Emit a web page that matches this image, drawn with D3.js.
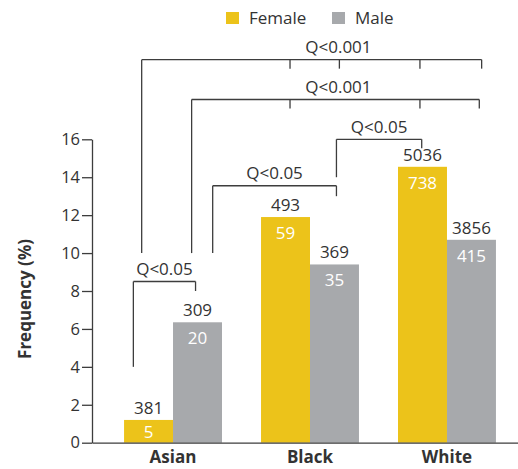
<!DOCTYPE html>
<html>
<head>
<meta charset="utf-8">
<script src="https://cdn.jsdelivr.net/npm/d3@7"></script>
<style>
  body { margin: 0; background: #fff; }
  svg text { font-family: "Open Sans", sans-serif; fill: #333; }
</style>
</head>
<body>
<div id="chart"></div>
<script>
const groups = ['Asian', 'Black', 'White'];
const sexes = ['Female', 'Male'];
const femaleFreq = [1.2, 11.9, 14.55];
const maleFreq = [6.35, 9.4, 10.7];
const femaleTotal = [381, 493, 5036];
const maleTotal = [309, 369, 3856];
const femaleCases = [5, 59, 738];
const maleCases = [20, 35, 415];
const yTicks = [0, 2, 4, 6, 8, 10, 12, 14, 16];

// brackets: each leg is [group index, place inside the group (0-1), value where the leg ends]
// a leg with null end is just a short tick
const brackets = [
    { label: 'Q<0.001', level: 20.2, labelAt: [1, 0.79],
      legs: [[0, 0.18, 10], [1, 0.296, null], [1, 0.8, null], [2, 0.224, null], [2, 0.854, null]] },
    { label: 'Q<0.001', level: 18.1, labelAt: [1, 0.79],
      legs: [[0, 0.69, 10], [1, 0.296, null], [2, 0.224, null], [2, 0.83, null]] },
    { label: 'Q<0.05', level: 16, labelAt: null,
      legs: [[1, 0.77, 14], [2, 0.242, null]] },
    { label: 'Q<0.05', level: 13.55, labelAt: null,
      legs: [[0, 0.905, 10], [1, 0.77, 13]] },
    { label: 'Q<0.05', level: 8.5, labelAt: null,
      legs: [[0, 0.095, 4], [0, 0.73, 8]] }
];

const width = 518;
const height = 469;
const colors = { Female: '#ECC31A', Male: '#A7A9AC' };
const lineColor = '#3d3d3d';

const svg = d3.select('#chart')
    .append('svg')
    .attr('width', width)
    .attr('height', height);

const x = d3.scaleBand()
    .domain(groups)
    .range([92, 528])
    .paddingInner(0.285)
    .paddingOuter(0.234);

const xSex = d3.scaleBand()
    .domain(sexes)
    .range([0, x.bandwidth()]);

const y = d3.scaleLinear()
    .domain([0, 16])
    .range([442.7, 139.3]);

// y axis
const yAxis = d3.axisLeft(y)
    .tickValues(yTicks)
    .tickSize(10)
    .tickSizeOuter(0)
    .tickPadding(2);

const yAxisGroup = svg.append('g')
    .attr('transform', 'translate(92, 0)')
    .call(yAxis);
yAxisGroup.selectAll('path, line').attr('stroke', lineColor).attr('stroke-width', 1.3);
yAxisGroup.selectAll('text')
    .style('font-size', '16.5px')
    .attr('fill', '#333');

svg.append('text')
    .attr('transform', `translate(31, ${(y(0) + y(16)) / 2 + 8}) rotate(-90)`)
    .attr('text-anchor', 'middle')
    .style('font-size', '17px')
    .style('font-weight', 'bold')
    .text('Frequency (%)');

// bars
const rows = [];
groups.forEach((g, i) => {
    rows.push({ group: g, sex: 'Female', value: femaleFreq[i], total: femaleTotal[i], cases: femaleCases[i] });
    rows.push({ group: g, sex: 'Male', value: maleFreq[i], total: maleTotal[i], cases: maleCases[i] });
});

const barGroup = svg.append('g');

barGroup.selectAll('rect')
    .data(rows)
    .enter()
    .append('rect')
    .attr('x', d => x(d.group) + xSex(d.sex))
    .attr('width', xSex.bandwidth())
    .attr('y', d => y(d.value))
    .attr('height', d => y(0) - y(d.value))
    .attr('fill', d => colors[d.sex]);

barGroup.selectAll('text.total')
    .data(rows)
    .enter()
    .append('text')
    .attr('class', 'total')
    .attr('x', d => x(d.group) + xSex(d.sex) + xSex.bandwidth() / 2)
    .attr('y', d => y(d.value) - 6)
    .attr('text-anchor', 'middle')
    .style('font-size', '17px')
    .text(d => d.total);

barGroup.selectAll('text.cases')
    .data(rows)
    .enter()
    .append('text')
    .attr('class', 'cases')
    .attr('x', d => x(d.group) + xSex(d.sex) + xSex.bandwidth() / 2)
    .attr('y', d => Math.min(y(d.value) + 22, y(0) - 4.5))
    .attr('text-anchor', 'middle')
    .style('font-size', '17px')
    .style('fill', '#fff')
    .text(d => d.cases);

// x axis
const xAxis = d3.axisBottom(x).tickSize(0).tickPadding(8);
const xAxisGroup = svg.append('g')
    .attr('transform', `translate(0, ${y(0)})`)
    .call(xAxis);
xAxisGroup.select('.domain').attr('stroke', lineColor).attr('stroke-width', 1.3);
xAxisGroup.selectAll('text')
    .style('font-size', '17px')
    .style('font-weight', 'bold')
    .attr('fill', '#333');

// significance brackets
const legX = leg => x(groups[leg[0]]) + leg[1] * x.bandwidth();
const bracketGroup = svg.append('g')
    .attr('fill', 'none')
    .attr('stroke', lineColor)
    .attr('stroke-width', 1.3);

brackets.forEach(b => {
    const yl = y(b.level);
    const xs = b.legs.map(legX);
    bracketGroup.append('line')
        .attr('x1', d3.min(xs)).attr('x2', d3.max(xs))
        .attr('y1', yl).attr('y2', yl);
    b.legs.forEach(leg => {
        bracketGroup.append('line')
            .attr('x1', legX(leg)).attr('x2', legX(leg))
            .attr('y1', yl)
            .attr('y2', leg[2] === null ? yl + 9 : y(leg[2]));
    });
    const lx = b.labelAt ? legX(b.labelAt) : (d3.min(xs) + d3.max(xs)) / 2;
    svg.append('text')
        .attr('x', lx)
        .attr('y', yl - 6.5)
        .attr('text-anchor', 'middle')
        .style('font-size', '17px')
        .text(b.label);
});

// legend
const legend = svg.append('g').attr('transform', 'translate(226, 12)');
const legendItems = legend.selectAll('g')
    .data(sexes)
    .enter()
    .append('g')
    .attr('transform', (d, i) => `translate(${i * 106}, 0)`);
legendItems.append('rect')
    .attr('width', 13)
    .attr('height', 12)
    .attr('fill', d => colors[d]);
legendItems.append('text')
    .attr('x', 23)
    .attr('y', 12)
    .style('font-size', '17px')
    .text(d => d);
</script>
</body>
</html>
